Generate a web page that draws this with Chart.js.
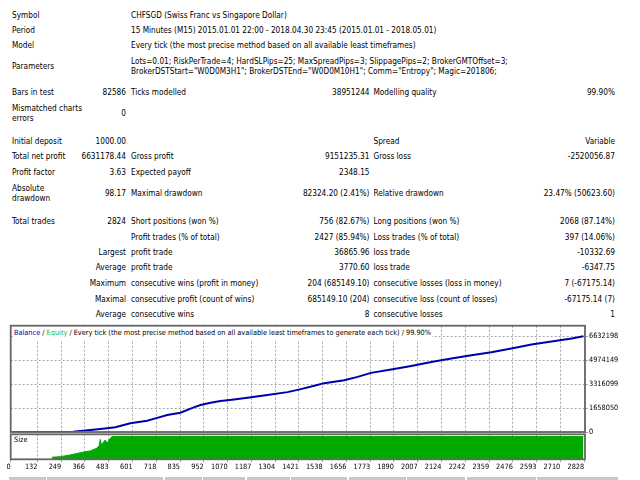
<!DOCTYPE html>
<html>
<head>
<meta charset="utf-8">
<script src="https://cdn.jsdelivr.net/npm/chart.js@4"></script>
<style>
  body { margin: 0; background: #fff; width: 640px; height: 480px; overflow: hidden; position: relative;
         font-family: "DejaVu Sans Condensed", "DejaVu Sans", sans-serif; font-size: 8.2px; color: #000; }
  .t { position: absolute; white-space: nowrap; line-height: 10px; }
  .box { position: absolute; }
  .cell { position: absolute; top: 477px; height: 4px; background: #c8c8c8; }
</style>
</head>
<body>
<div id="report"></div>
<div class="box" style="left:0;top:300px;width:640px;height:145px"><canvas id="balanceChart"></canvas></div>
<div class="box" style="left:0;top:425px;width:640px;height:55px"><canvas id="sizeChart"></canvas></div>
<div class="t" style="left:13px;top:327px;font-size:7.3px;background:#fff;padding:1px 1px 2px 1px">
  <span style="color:#0000aa">Balance</span> / <span style="color:#22bb22">Equity</span> / Every tick (the most precise method based on all available least timeframes to generate each tick) / 99.90%
</div>
<div class="t" style="left:14px;top:435px;font-size:7.3px">Size</div>
<script>
// report header
const headerLabels = ["Symbol", "Period", "Model", "Parameters"];
const headerValues = [
  "CHFSGD (Swiss Franc vs Singapore Dollar)",
  "15 Minutes (M15) 2015.01.01 22:00 - 2018.04.30 23:45 (2015.01.01 - 2018.05.01)",
  "Every tick (the most precise method based on all available least timeframes)",
  "Lots=0.01; RiskPerTrade=4; HardSLPips=25; MaxSpreadPips=3; SlippagePips=2; BrokerGMTOffset=3;<br>BrokerDSTStart=\"W0D0M3H1\"; BrokerDSTEnd=\"W0D0M10H1\"; Comm=\"Entropy\"; Magic=201806;"
];

// results table, 6 columns
const statRows = [
  ["Bars in test", "82586", "Ticks modelled", "38951244", "Modelling quality", "99.90%"],
  ["Mismatched charts<br>errors", "0", "", "", "", ""],
  ["Initial deposit", "1000.00", "", "", "Spread", "Variable"],
  ["Total net profit", "6631178.44", "Gross profit", "9151235.31", "Gross loss", "-2520056.87"],
  ["Profit factor", "3.63", "Expected payoff", "2348.15", "", ""],
  ["Absolute<br>drawdown", "98.17", "Maximal drawdown", "82324.20 (2.41%)", "Relative drawdown", "23.47% (50623.60)"],
  ["Total trades", "2824", "Short positions (won %)", "756 (82.67%)", "Long positions (won %)", "2068 (87.14%)"],
  ["", "", "Profit trades (% of total)", "2427 (85.94%)", "Loss trades (% of total)", "397 (14.06%)"],
  ["", "Largest", "profit trade", "36865.96", "loss trade", "-10332.69"],
  ["", "Average", "profit trade", "3770.60", "loss trade", "-6347.75"],
  ["", "Maximum", "consecutive wins (profit in money)", "204 (685149.10)", "consecutive losses (loss in money)", "7 (-67175.14)"],
  ["", "Maximal", "consecutive profit (count of wins)", "685149.10 (204)", "consecutive loss (count of losses)", "-67175.14 (7)"],
  ["", "Average", "consecutive wins", "8", "consecutive losses", "1"]
];

// balance curve (trade number -> balance)
const balanceTrades = [0, 307, 442, 516, 590, 673, 714, 772, 837, 903, 936, 986, 1035, 1101, 1167, 1266, 1365,
  1431, 1497, 1546, 1645, 1711, 1777, 1876, 1975, 2074, 2173, 2272, 2370, 2469, 2568, 2667, 2766, 2824];
const balanceValues = [1000, 15000, 207000, 325000, 601000, 781000, 946000, 1174000, 1333000, 1706000, 1865000,
  2024000, 2142000, 2259000, 2370000, 2556000, 2763000, 2971000, 3199000, 3385000, 3592000, 3820000, 4097000,
  4331000, 4580000, 4857000, 5091000, 5319000, 5527000, 5782000, 6059000, 6266000, 6473000, 6632178];

// lot size per trade
const sizeTrades = [203, 244, 293, 343, 392, 425, 436, 442, 447, 466, 475, 491, 500, 2824];
const sizeLots = [9, 11.5, 19, 29, 37, 49, 60, 88, 63, 85, 71, 93, 100, 100];

const xTicks = [0, 132, 249, 366, 483, 601, 718, 835, 952, 1070, 1187, 1304, 1421, 1538, 1656, 1773, 1890,
  2007, 2124, 2242, 2359, 2476, 2593, 2710, 2828];
const yTicks = [0, 1658050, 3316099, 4974149, 6632198];

// ---- layout of the text report ----
const report = document.getElementById("report");
function put(html, x, y, right) {
  const d = document.createElement("div");
  d.className = "t";
  d.innerHTML = html;
  d.style.top = (y - 5) + "px";
  if (right) d.style.right = (640 - x) + "px"; else d.style.left = x + "px";
  report.appendChild(d);
}
const headerY = [15, 30, 45, 66];
headerLabels.forEach((l, i) => {
  put(l, 12, headerY[i]);
  put(headerValues[i], 131, i == 3 ? headerY[i] - 5 : headerY[i]);
});
const rowY = [92, 113, 141, 156, 172, 193, 221, 237, 252, 267, 283, 299, 314];
const colX = [12, 126, 131, 369.5, 373.5, 615];
statRows.forEach((row, r) => {
  row.forEach((txt, c) => {
    if (!txt) return;
    const y = txt.includes("<br>") ? rowY[r] - 5 : rowY[r];
    put(txt, colX[c], y, c % 2 == 1);
  });
});

// grey header cells of the next table, cut by the picture edge
[[9, 46], [47, 163], [165, 202], [203, 245], [247, 290], [291, 347], [349, 406], [407, 465], [467, 536], [537, 618]]
  .forEach(([a, b]) => {
    const d = document.createElement("div");
    d.className = "cell";
    d.style.left = a + "px";
    d.style.width = (b - a) + "px";
    document.body.appendChild(d);
  });

// ---- charts ----
const frame = {
  id: "frame",
  afterDraw(chart) {
    const a = chart.chartArea, ctx = chart.ctx;
    ctx.save();
    ctx.strokeStyle = "#666";
    ctx.lineWidth = 1.8;
    ctx.strokeRect(a.left, a.top, a.right - a.left, a.bottom - a.top);
    ctx.restore();
  }
};
const tickFont = { family: "DejaVu Sans Condensed", size: 7.3 };
const gridColor = "#a6a6a6";
const dots = [2, 2];

new Chart("balanceChart", {
  type: "line",
  data: {
    datasets: [{
      label: "Balance",
      data: balanceTrades.map((t, i) => ({ x: t, y: balanceValues[i] })),
      borderColor: "#0000aa",
      borderWidth: 2,
      pointRadius: 0,
      fill: false
    }]
  },
  options: {
    animation: false,
    responsive: true,
    maintainAspectRatio: false,
    layout: { padding: { left: 10.7, top: 25.7, right: 0, bottom: 13 } },
    plugins: { legend: { display: false }, tooltip: { enabled: false } },
    scales: {
      x: {
        type: "linear", min: 0, max: 2832,
        afterBuildTicks: s => { s.ticks = xTicks.map(v => ({ value: v })); },
        afterFit: s => { s.height = 0; },
        ticks: { display: false },
        grid: { color: gridColor, lineWidth: 1, drawTicks: false },
        border: { display: false, dash: dots }
      },
      y: {
        position: "right", min: 0, max: 7366000,
        afterBuildTicks: s => { s.ticks = yTicks.map(v => ({ value: v })); },
        afterFit: s => { s.width = 55; },
        ticks: { font: tickFont, color: "#000", padding: 1, callback: v => String(v) },
        grid: { color: gridColor, lineWidth: 1, tickLength: 3 },
        border: { display: false, dash: dots }
      }
    }
  },
  plugins: [frame]
});

new Chart("sizeChart", {
  type: "line",
  data: {
    datasets: [{
      label: "Size",
      data: sizeTrades.map((t, i) => ({ x: t, y: sizeLots[i] })),
      borderColor: "#00aa00",
      backgroundColor: "#00aa00",
      borderWidth: 1,
      pointRadius: 0,
      fill: "origin"
    }]
  },
  options: {
    animation: false,
    responsive: true,
    maintainAspectRatio: false,
    layout: { padding: { left: 10.7, top: 9.3, right: 55, bottom: 6.7 } },
    plugins: { legend: { display: false }, tooltip: { enabled: false } },
    scales: {
      x: {
        type: "linear", min: 0, max: 2832,
        afterBuildTicks: s => { s.ticks = xTicks.map(v => ({ value: v })); },
        afterFit: s => { s.height = 14; },
        ticks: { font: tickFont, color: "#000", padding: 0, align: "end", maxRotation: 0, autoSkip: false,
                 callback: v => String(v) },
        grid: { color: gridColor, lineWidth: 1, tickLength: 3 },
        border: { display: false, dash: dots }
      },
      y: { display: false, min: 0, max: 110 }
    }
  },
  plugins: [frame]
});
</script>
</body>
</html>
